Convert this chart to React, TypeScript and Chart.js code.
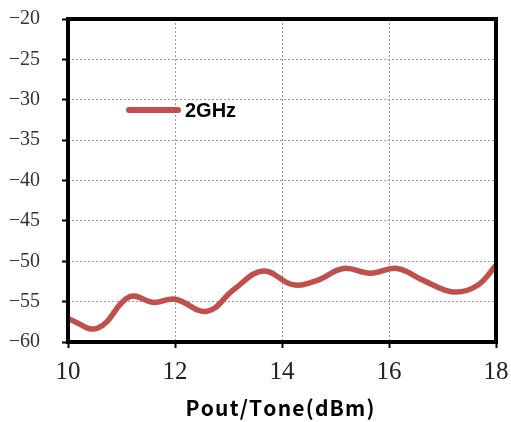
import React, { useEffect, useRef } from "react";
import { Chart, registerables } from "chart.js";

Chart.register(...registerables);

// Output power per tone (dBm)
const poutTone = [10, 10.55, 11.15, 11.6, 12.0, 12.6, 13.1, 13.65, 14.2, 14.65, 15.15, 15.65, 16.15, 16.65, 17.2, 17.65, 18];
// Measured response at 2 GHz (dBc)
const imd2GHz = [-57.1, -58.3, -54.4, -55.1, -54.7, -56.2, -53.5, -51.2, -52.9, -52.4, -50.9, -51.5, -50.9, -52.4, -53.8, -53.0, -50.5];

const seriesLabel = "2GHz";
const xTitle = "Pout/Tone(dBm)";
const xRange = [10, 18];
const yRange = [-60, -20];

const LINE_COLOR = "#C0504D";

// Draws text one glyph at a time with extra tracking, centred on cx
function drawTracked(ctx: CanvasRenderingContext2D, text: string, cx: number, y: number, tracking: number) {
  const chars = Array.from(text);
  const widths = chars.map((c) => ctx.measureText(c).width);
  const total = widths.reduce((a, b) => a + b, 0) + tracking * (chars.length - 1);
  let x = cx - total / 2;
  chars.forEach((c, i) => {
    ctx.fillText(c, x, y);
    x += widths[i] + tracking;
  });
}

// Black frame around the plot area, the in-plot legend entry and the x-axis title
const framePlugin = {
  id: "frameAndLegend",
  afterDatasetsDraw(chart: any) {
    const { ctx, chartArea } = chart;
    const { left, right, top, bottom } = chartArea;
    ctx.save();
    ctx.strokeStyle = "#000";
    ctx.lineWidth = 4;
    ctx.lineJoin = "miter";
    ctx.strokeRect(left, top, right - left, bottom - top);

    // legend entry
    const ly = 110;
    ctx.strokeStyle = LINE_COLOR;
    ctx.lineWidth = 6;
    ctx.lineCap = "round";
    ctx.beginPath();
    ctx.moveTo(129, ly);
    ctx.lineTo(178, ly);
    ctx.stroke();
    ctx.fillStyle = "#000";
    ctx.font = "bold 20px 'Liberation Sans', Arial, sans-serif";
    ctx.textBaseline = "middle";
    ctx.textAlign = "left";
    ctx.fillText(seriesLabel, 185, ly + 1);

    // x-axis title
    ctx.font = "bold 21px 'Noto Sans CJK SC', sans-serif";
    ctx.textBaseline = "alphabetic";
    drawTracked(ctx, xTitle, (left + right) / 2 - 2, 416, 1.2);
    ctx.restore();
  },
};

export default function App() {
  const canvasRef = useRef<HTMLCanvasElement | null>(null);

  useEffect(() => {
    const canvas = canvasRef.current;
    if (!canvas) return;
    const points = poutTone.map((x, i) => ({ x, y: imd2GHz[i] }));
    const chart = new Chart(canvas, {
      type: "line",
      data: {
        datasets: [
          {
            label: seriesLabel,
            data: points,
            borderColor: LINE_COLOR,
            backgroundColor: LINE_COLOR,
            borderWidth: 5.5,
            pointRadius: 0,
            tension: 0.4,
            fill: false,
          },
        ],
      },
      options: {
        responsive: false,
        animation: false,
        layout: { padding: { top: 19, right: 15, left: 0, bottom: 0 } },
        plugins: {
          legend: { display: false },
          tooltip: { enabled: false },
        },
        scales: {
          x: {
            type: "linear",
            min: xRange[0],
            max: xRange[1],
            afterFit: (scale: any) => {
              scale.height = 80;
              scale.paddingLeft = 0;
              scale.paddingRight = 0;
            },
            ticks: {
              stepSize: 2,
              padding: 9,
              color: "#222",
              font: { family: "'Liberation Serif', 'Times New Roman', serif", size: 25 },
              maxRotation: 0,
            },
            grid: {
              color: "#9a9a9a",
              lineWidth: 1,
              tickLength: 6,
              tickWidth: 2,
              tickColor: "#000",
              tickBorderDash: [],
            },
            border: { display: false, dash: [2, 2] },
          },
          y: {
            min: yRange[0],
            max: yRange[1],
            afterFit: (scale: any) => {
              scale.width = 68;
              scale.paddingTop = 0;
              scale.paddingBottom = 0;
            },
            ticks: {
              stepSize: 5,
              padding: 22,
              color: "#333",
              font: { family: "'Liberation Serif', 'Times New Roman', serif", size: 20 },
              callback: (v: any) => String(v).replace("-", "\u2212"),
            },
            grid: {
              color: "#9a9a9a",
              lineWidth: 1,
              tickLength: 6,
              tickWidth: 2,
              tickColor: "#000",
              tickBorderDash: [],
            },
            border: { display: false, dash: [2, 2] },
          },
        },
      },
      plugins: [framePlugin],
    });
    return () => chart.destroy();
  }, []);

  return (
    <canvas
      ref={canvasRef}
      width={511}
      height={422}
      style={{ position: "fixed", left: 0, top: 0, width: 511, height: 422, background: "#fff" }}
    />
  );
}
